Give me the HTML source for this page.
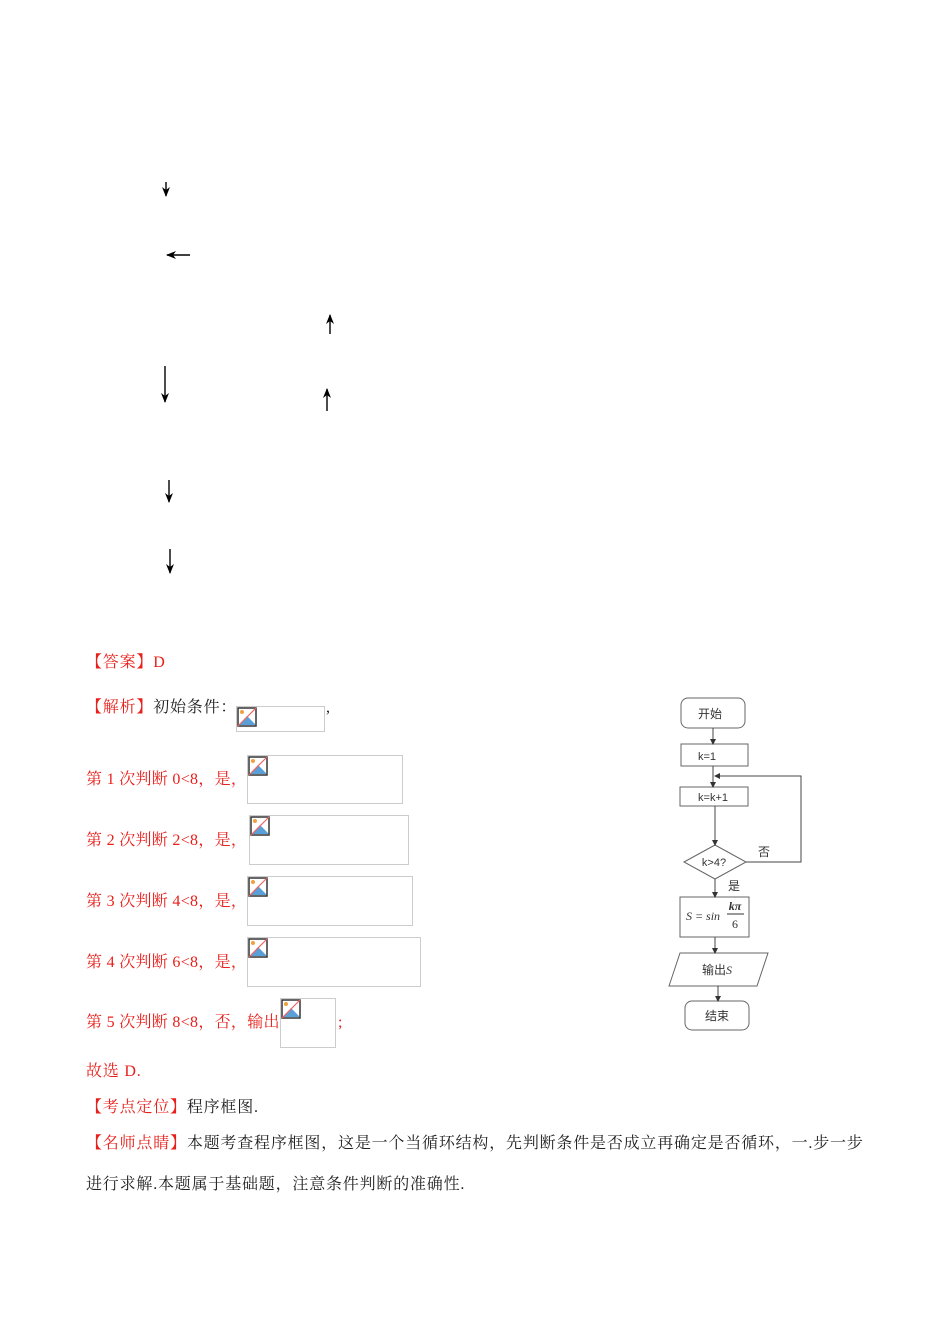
<!DOCTYPE html>
<html><head><meta charset="utf-8"><style>
body{margin:0;width:950px;height:1344px;background:#fff;position:relative;font-family:"Liberation Serif","Noto Serif CJK SC",serif;}
.t{position:absolute;font-size:16px;color:#e8201c;white-space:nowrap;line-height:20px;letter-spacing:0.8px;}
.n{letter-spacing:0.3px}
.k{color:#222}
.b{position:absolute;border:1px solid #ccc;box-sizing:border-box;}
.ic{position:absolute;left:0;top:0;width:20px;height:20px;}
svg{position:absolute;left:0;top:0}
</style></head><body>
<svg width="950" height="1344">
<defs><marker id="a" markerWidth="10" markerHeight="10" refX="9" refY="5" orient="auto" markerUnits="userSpaceOnUse"><path d="M0,1 L10,5 L0,9 L3,5z" fill="#000"/></marker>
<marker id="s" markerWidth="6" markerHeight="6" refX="5" refY="3" orient="auto" markerUnits="userSpaceOnUse"><path d="M0,0 L6,3 L0,6z" fill="#333"/></marker></defs>
<g stroke="#000" stroke-width="1.4" marker-end="url(#a)">
<line x1="166" y1="182" x2="166" y2="196"/>
<line x1="190" y1="255" x2="167" y2="255"/>
<line x1="330" y1="334" x2="330" y2="315"/>
<line x1="165" y1="366" x2="165" y2="402"/>
<line x1="327" y1="411" x2="327" y2="389"/>
<line x1="169" y1="480" x2="169" y2="502"/>
<line x1="170" y1="549" x2="170" y2="573"/>
</g>
<g fill="#fff" stroke="#666" stroke-width="1">
<rect x="681" y="698" width="64" height="30" rx="7"/>
<rect x="681" y="744" width="67" height="22"/>
<rect x="680" y="787" width="68" height="19"/>
<polygon points="684,862 715,845 746,862 715,879"/>
<rect x="680" y="897" width="69" height="40"/>
<polygon points="669,986 680,953 768,953 757,986"/>
<rect x="685" y="1001" width="64" height="29" rx="7"/>
</g>
<g stroke="#444" stroke-width="1" fill="none" marker-end="url(#s)">
<line x1="713" y1="728" x2="713" y2="744"/>
<line x1="713" y1="766" x2="713" y2="787"/>
<polyline points="746,862 801,862 801,776 715,776"/>
<line x1="715" y1="806" x2="715" y2="845"/>
<line x1="715" y1="879" x2="715" y2="897"/>
<line x1="715" y1="937" x2="715" y2="953"/>
<line x1="718" y1="986" x2="718" y2="1001"/>
</g>
<g font-family="Liberation Sans,Noto Sans CJK SC,sans-serif" font-size="12" fill="#333" text-anchor="middle">
<text x="710" y="718">开始</text>
<text x="707" y="760" font-size="11">k=1</text>
<text x="713" y="801" font-size="11">k=k+1</text>
<text x="714" y="866" font-size="11">k&gt;4?</text>
<text x="764" y="856">否</text>
<text x="734" y="890">是</text>
<text x="717" y="974">输出<tspan font-style="italic" font-family="Liberation Serif">S</tspan></text>
<text x="717" y="1020">结束</text>
<text x="703" y="920" font-family="Liberation Serif" font-style="italic" font-size="12">S = sin</text>
<text x="735" y="910" font-family="Liberation Serif" font-style="italic" font-size="12" font-weight="bold">kπ</text>
<line x1="727" y1="914" x2="744" y2="914" stroke="#333"/>
<text x="735" y="928" font-family="Liberation Serif" font-size="12">6</text>
</g>
</svg>
<div class="t" style="left:86px;top:653px">【答案】D</div>
<div class="t" style="left:86px;top:698px">【解析】<span class="k">初始条件：</span></div>
<div class="t k" style="left:326px;top:698px">,</div>
<div class="t n" style="left:86px;top:770px">第 1 次判断 0&lt;8，是，</div>
<div class="t n" style="left:86px;top:831px">第 2 次判断 2&lt;8，是，</div>
<div class="t n" style="left:86px;top:892px">第 3 次判断 4&lt;8，是，</div>
<div class="t n" style="left:86px;top:953px">第 4 次判断 6&lt;8，是，</div>
<div class="t n" style="left:86px;top:1013px">第 5 次判断 8&lt;8，否，输出</div>
<div class="t" style="left:338px;top:1013px">;</div>
<div class="t" style="left:86px;top:1062px">故选 D.</div>
<div class="t" style="left:86px;top:1098px">【考点定位】<span class="k">程序框图.</span></div>
<div class="t" style="left:86px;top:1134px">【名师点睛】<span class="k">本题考查程序框图，这是一个当循环结构，先判断条件是否成立再确定是否循环，一.步一步</span></div>
<div class="t k" style="left:86px;top:1175px">进行求解.本题属于基础题，注意条件判断的准确性.</div>

<div class="b" style="left:236px;top:706px;width:89px;height:26px"><svg class="ic" width="20" height="20"><rect x="1" y="1" width="18" height="18" fill="#fff" stroke="#333" stroke-width="1.5"/><circle cx="5" cy="5" r="2" fill="#f0a040"/><path d="M2,18 L10,9 L18,17 L18,18z" fill="#5aa0d8"/><line x1="1" y1="19" x2="19" y2="1" stroke="#e66" stroke-width="1.2"/></svg></div>
<div class="b" style="left:247px;top:755px;width:156px;height:49px"><svg class="ic" width="20" height="20"><rect x="1" y="1" width="18" height="18" fill="#fff" stroke="#333" stroke-width="1.5"/><circle cx="5" cy="5" r="2" fill="#f0a040"/><path d="M2,18 L10,9 L18,17 L18,18z" fill="#5aa0d8"/><line x1="1" y1="19" x2="19" y2="1" stroke="#e66" stroke-width="1.2"/></svg></div>
<div class="b" style="left:249px;top:815px;width:160px;height:50px"><svg class="ic" width="20" height="20"><rect x="1" y="1" width="18" height="18" fill="#fff" stroke="#333" stroke-width="1.5"/><circle cx="5" cy="5" r="2" fill="#f0a040"/><path d="M2,18 L10,9 L18,17 L18,18z" fill="#5aa0d8"/><line x1="1" y1="19" x2="19" y2="1" stroke="#e66" stroke-width="1.2"/></svg></div>
<div class="b" style="left:247px;top:876px;width:166px;height:50px"><svg class="ic" width="20" height="20"><rect x="1" y="1" width="18" height="18" fill="#fff" stroke="#333" stroke-width="1.5"/><circle cx="5" cy="5" r="2" fill="#f0a040"/><path d="M2,18 L10,9 L18,17 L18,18z" fill="#5aa0d8"/><line x1="1" y1="19" x2="19" y2="1" stroke="#e66" stroke-width="1.2"/></svg></div>
<div class="b" style="left:247px;top:937px;width:174px;height:50px"><svg class="ic" width="20" height="20"><rect x="1" y="1" width="18" height="18" fill="#fff" stroke="#333" stroke-width="1.5"/><circle cx="5" cy="5" r="2" fill="#f0a040"/><path d="M2,18 L10,9 L18,17 L18,18z" fill="#5aa0d8"/><line x1="1" y1="19" x2="19" y2="1" stroke="#e66" stroke-width="1.2"/></svg></div>
<div class="b" style="left:280px;top:998px;width:56px;height:50px"><svg class="ic" width="20" height="20"><rect x="1" y="1" width="18" height="18" fill="#fff" stroke="#333" stroke-width="1.5"/><circle cx="5" cy="5" r="2" fill="#f0a040"/><path d="M2,18 L10,9 L18,17 L18,18z" fill="#5aa0d8"/><line x1="1" y1="19" x2="19" y2="1" stroke="#e66" stroke-width="1.2"/></svg></div>
</body></html>
